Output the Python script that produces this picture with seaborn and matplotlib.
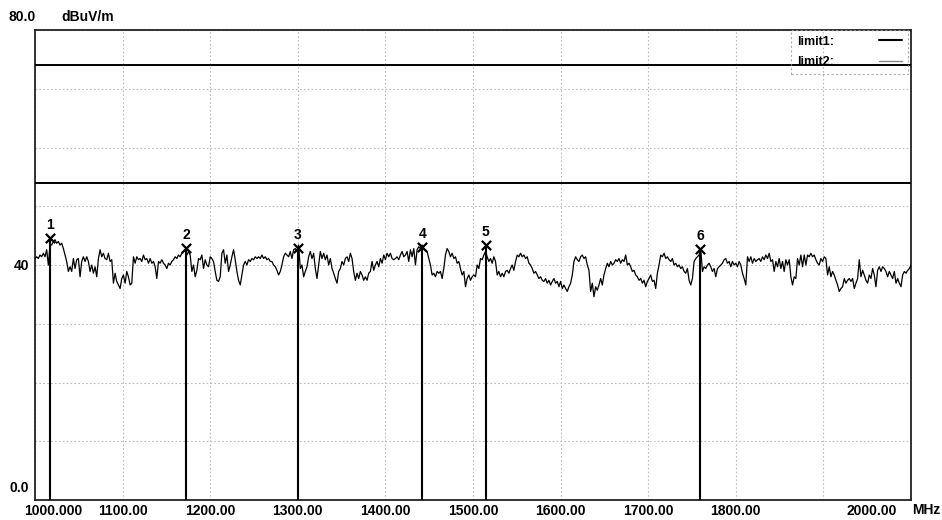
import numpy as np
import matplotlib
matplotlib.use("Agg")
import matplotlib.pyplot as plt
import seaborn as sns
from matplotlib.lines import Line2D
from matplotlib.transforms import ScaledTranslation

# ---------------- data ----------------
f_start, f_stop = 1000.0, 2000.0  # MHz sweep

level_seg1 = [41.1, 41.4, 41.1, 41.7, 41.4, 42.0, 41.4, 42.6, 40.0, 43.4,
              43.4, 44.0, 44.3, 43.7, 44.0, 43.4, 43.7, 42.8, 41.7, 40.6,
              38.9, 39.7, 38.9, 41.1, 39.4, 40.9, 41.1, 38.0, 40.6, 41.4,
              40.6, 41.4, 40.6, 38.9, 40.0, 38.6, 39.7, 38.0, 41.1, 42.6,
              41.4, 42.0, 41.1, 40.9, 42.0, 40.6, 40.9, 36.9, 38.6, 37.2,
              36.6, 36.0, 37.7, 38.3, 36.9, 38.9, 38.0, 36.6, 36.9, 41.4,
              40.3, 41.4, 40.9, 41.1, 40.6, 41.7, 40.9, 41.1, 40.3, 41.1,
              40.3, 40.6, 39.7, 37.7, 40.6, 40.3, 40.9, 40.3, 40.0, 39.4,
              40.3, 40.0, 40.6, 40.9, 41.4, 41.1, 41.7, 41.4, 42.0, 42.3,
              42.6, 41.7, 42.3, 41.7, 38.9, 40.0, 38.0, 39.1, 41.1, 40.9,
              41.7, 39.4, 40.9, 40.0, 39.7, 41.4, 41.1]

level_seg2 = [40.6, 38.9, 37.4, 37.2, 38.0, 42.0, 42.6, 40.3, 41.7, 38.9,
              40.0, 41.4, 42.6, 40.9, 38.9, 37.4, 36.6, 38.3, 40.0, 40.6,
              40.0, 40.9, 40.6, 41.1, 40.9, 41.4, 41.1, 41.4, 41.1, 41.7,
              41.1, 41.4, 40.9, 41.1, 40.6, 40.6, 40.0, 39.7, 39.1, 38.3,
              38.9, 40.0, 41.4, 42.0, 41.7, 41.4, 42.3, 41.1, 42.6, 42.8,
              42.3, 43.4, 39.4, 40.0, 38.0, 38.9, 39.7, 41.4, 42.3, 41.1,
              42.0, 39.4, 37.7, 40.0, 42.3, 41.1, 42.0, 40.9, 41.7, 40.0,
              41.1, 39.4, 38.6, 37.7, 36.9, 38.9, 39.4, 40.6, 40.0, 41.1,
              41.4, 40.6, 42.0, 41.1, 38.9, 37.4, 38.6, 37.7, 38.9, 38.3,
              37.4, 38.0, 37.4, 38.6, 38.9, 40.6, 39.1, 40.0, 40.6, 39.7,
              41.1, 40.3, 41.7, 40.9, 42.0]

level_seg3 = [41.4, 42.0, 41.1, 40.9, 41.1, 41.4, 40.9, 41.7, 42.3, 41.4,
              41.7, 42.3, 40.6, 42.6, 41.4, 42.8, 40.0, 42.6, 43.1, 42.8,
              43.4, 42.8, 42.6, 42.3, 41.1, 40.0, 38.3, 38.6, 38.0, 38.9,
              38.6, 38.9, 37.7, 39.4, 41.7, 42.8, 42.3, 41.4, 42.0, 41.1,
              41.4, 40.3, 40.6, 39.4, 38.3, 38.9, 36.3, 37.7, 38.3, 37.4,
              38.0, 38.3, 38.0, 40.0, 39.4, 41.1, 40.9, 41.7, 42.3, 41.4,
              40.6, 41.1, 40.3, 41.4, 40.6, 38.3, 38.9, 38.0, 38.6, 38.0,
              38.9, 39.1, 38.6, 39.4, 40.0, 39.1, 40.6, 41.7, 41.4, 42.0,
              41.4, 41.7, 41.1, 41.4, 40.3, 40.0, 39.4, 38.6, 38.9, 38.3,
              37.7, 38.0, 37.4, 37.2, 37.7, 36.9, 37.4, 36.6, 37.2, 37.7,
              36.9, 37.2, 36.3, 37.2, 36.0]

level_seg4 = [36.6, 36.0, 35.5, 36.3, 36.9, 38.3, 40.6, 41.4, 40.9, 40.6,
              41.4, 41.7, 41.1, 41.4, 40.0, 39.1, 35.5, 36.9, 34.6, 36.3,
              35.7, 36.6, 37.7, 36.6, 38.3, 39.4, 40.3, 39.7, 40.6, 40.0,
              40.3, 40.9, 40.6, 41.1, 40.3, 40.9, 40.6, 41.7, 40.0, 40.3,
              39.7, 38.9, 39.1, 38.3, 38.0, 37.4, 37.7, 36.9, 37.4, 36.3,
              37.2, 37.7, 38.3, 37.2, 37.4, 36.0, 38.6, 40.0, 41.7, 41.4,
              42.0, 41.1, 41.4, 40.9, 40.6, 41.1, 40.0, 40.3, 39.7, 40.0,
              39.4, 39.7, 38.9, 38.6, 39.4, 37.4, 36.6, 37.7, 40.6, 41.1,
              41.4, 41.7, 42.6, 38.9, 39.7, 39.4, 40.0, 40.3, 39.7, 38.9,
              39.4, 38.0, 39.4, 39.7, 40.0, 40.3, 40.9, 41.1, 40.3, 40.6,
              39.7, 40.6, 40.0, 40.3, 39.7]

level_seg5 = [40.6, 40.0, 38.6, 37.7, 36.6, 41.4, 40.6, 41.4, 40.3, 41.1,
              40.6, 40.9, 41.1, 40.6, 41.4, 40.9, 41.7, 41.1, 42.0, 40.6,
              40.9, 38.9, 40.6, 39.7, 41.1, 39.4, 40.6, 38.9, 40.9, 40.0,
              40.9, 38.0, 36.6, 38.0, 37.7, 41.1, 40.0, 41.7, 39.7, 41.7,
              40.0, 41.7, 41.4, 42.0, 41.4, 41.7, 40.9, 40.3, 40.0, 41.1,
              40.6, 41.4, 41.1, 38.3, 39.7, 38.0, 38.9, 38.3, 37.4, 36.6,
              35.5, 36.0, 36.3, 37.7, 36.9, 37.4, 37.7, 37.2, 37.7, 36.0,
              36.9, 37.7, 40.9, 38.0, 39.1, 38.3, 37.4, 36.9, 38.3, 37.7,
              39.4, 38.3, 36.3, 39.1, 39.7, 38.9, 39.7, 39.4, 38.9, 38.0,
              38.9, 38.3, 37.7, 38.9, 36.9, 37.7, 36.9, 36.3, 38.3, 38.9,
              38.6, 39.1, 39.4, 40.0]

marker_ids = ["1", "2", "3", "4", "5", "6"]
marker_freq = [1017.5, 1172.2, 1299.8, 1442.3, 1514.3, 1759.2]
marker_level = [44.6, 42.9, 42.9, 43.1, 43.4, 42.8]

limit_labels = ["limit1:", "limit2:"]
limit_values = [74.0, 54.0]

x_ticks = [1000, 1100, 1200, 1300, 1400, 1500, 1600, 1700, 1800, 1900, 2000]
x_tick_labels = ["1000.000", "1100.00", "1200.00", "1300.00", "1400.00",
                 "1500.00", "1600.00", "1700.00", "1800.00", "", "2000.00"]
y_ticks = [0, 10, 20, 30, 40, 50, 60, 70, 80]
y_tick_labels = ["0.0", "", "", "", "40", "", "", "", ""]
y_top_label = "80.0"
y_unit = "dBuV/m"
x_unit = "MHz"

level = np.array(level_seg1 + level_seg2 + level_seg3 + level_seg4 + level_seg5)
freq = np.linspace(f_start, f_stop, len(level))

# ---------------- drawing ----------------
sns.set_theme(style="white")
plt.rcParams["font.family"] = ["Liberation Sans", "DejaVu Sans"]
plt.rcParams["font.weight"] = "bold"
plt.rcParams["text.color"] = "black"
plt.rcParams["xtick.color"] = "black"
plt.rcParams["ytick.color"] = "black"

W, H = 942, 520
fig = plt.figure(figsize=(W / 100, H / 100), dpi=100)
fig.patch.set_facecolor("white")
L, R, T, B = 35, 911, 30, 500
ax = fig.add_axes([L / W, (H - B) / H, (R - L) / W, (B - T) / H])
ax.set_facecolor("white")

ax.set_xlim(f_start, f_stop)
ax.set_ylim(0, 80)

ax.set_xticks(x_ticks)
ax.set_xticklabels(x_tick_labels, fontsize=10, fontweight="bold", color="black")
ax.set_yticks(y_ticks)
ax.set_yticklabels(y_tick_labels, fontsize=10, fontweight="bold", color="black")
ax.tick_params(axis="both", length=0, colors="black", labelcolor="black")
ax.tick_params(axis="x", pad=3)
ax.tick_params(axis="y", pad=4)

ax.grid(True, color="#bdbdbd", linestyle=(0, (1.5, 2.0)), linewidth=0.8)
ax.set_axisbelow(True)
for s in ax.spines.values():
    s.set_color("#222222")
    s.set_linewidth(1.3)

# shift a few tick labels like the analyzer printout
xl = ax.get_xticklabels()
xl[0].set_transform(xl[0].get_transform() + ScaledTranslation(18 / 100, 0, fig.dpi_scale_trans))
xl[-1].set_transform(xl[-1].get_transform() + ScaledTranslation(-39 / 100, 0, fig.dpi_scale_trans))
yl = ax.get_yticklabels()
yl[0].set_transform(yl[0].get_transform() + ScaledTranslation(0, 14 / 100, fig.dpi_scale_trans))

# limit lines
for v in limit_values:
    ax.axhline(v, color="black", linewidth=1.4, zorder=3)

# trace
sns.lineplot(x=freq, y=level, ax=ax, color="black", linewidth=0.9, zorder=4)

# markers
ax.vlines(marker_freq, 0, marker_level, color="black", linewidth=1.5, zorder=5)
sns.scatterplot(x=marker_freq, y=marker_level, ax=ax, marker="x", s=45,
                color="black", linewidth=1.6, zorder=6)
for mid, mf, ml in zip(marker_ids, marker_freq, marker_level):
    ax.annotate(mid, (mf, ml), xytext=(0, 4), textcoords="offset points",
                ha="center", va="bottom", fontsize=10, fontweight="bold",
                color="black", zorder=7)

# legend
handles = [Line2D([], [], color="black", linewidth=1.5),
           Line2D([], [], color="#888888", linewidth=1.0)]
leg = ax.legend(handles, limit_labels, loc="upper right",
                bbox_to_anchor=(1 - 3 / (R - L), 1.0), borderaxespad=0,
                markerfirst=False, frameon=True, fancybox=False,
                handlelength=1.9, handletextpad=3.6, labelspacing=0.7,
                borderpad=0.45, prop={"weight": "bold", "size": 9})
for t in leg.get_texts():
    t.set_color("black")
fr = leg.get_frame()
fr.set_facecolor("none")
fr.set_edgecolor("#999999")
fr.set_linestyle((0, (2, 2)))
fr.set_linewidth(0.8)

# header / unit texts
fig.text(22 / W, 1 - 17 / H, y_top_label, ha="center", va="center",
         fontsize=10, fontweight="bold", color="black")
fig.text(61 / W, 1 - 17 / H, y_unit, ha="left", va="center",
         fontsize=10, fontweight="bold", color="black")
fig.text(912 / W, 1 - 510 / H, x_unit, ha="left", va="center",
         fontsize=10, fontweight="bold", color="black")

ax.set_xlabel("")
ax.set_ylabel("")
fig.savefig("out.png", dpi=100)
